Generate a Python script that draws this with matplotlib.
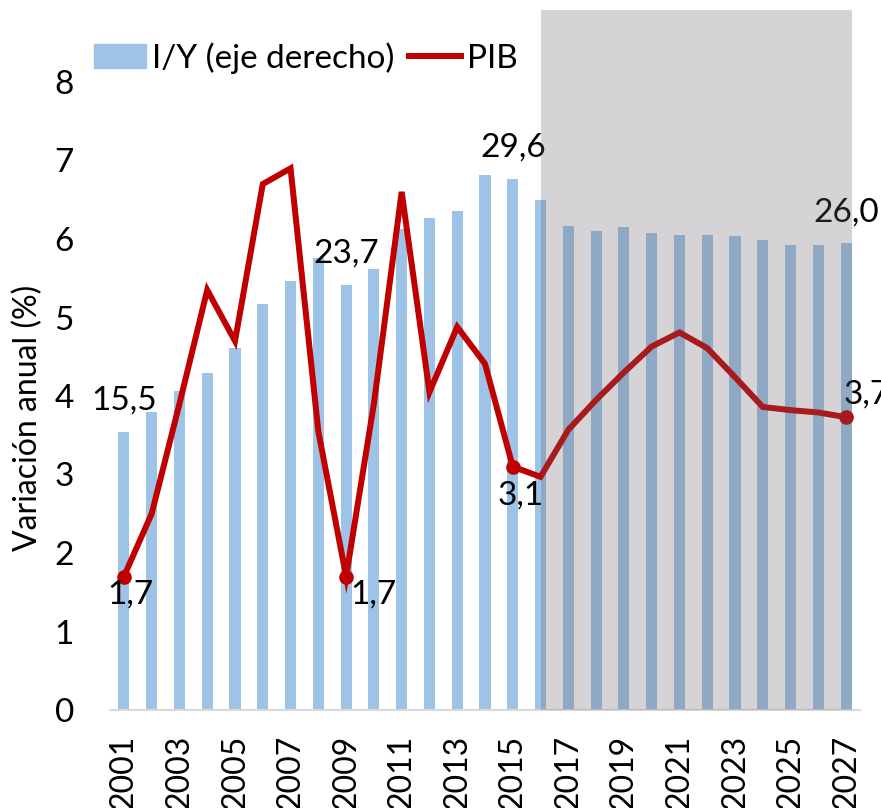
import matplotlib.pyplot as plt
import numpy as np
from matplotlib.patches import Rectangle, Patch
from matplotlib.lines import Line2D

plt.rcParams['font.family'] = ['Lato', 'DejaVu Sans']

years = list(range(2001, 2028))
# I/Y, right axis (0-35)
iy = [15.5, 16.6, 17.8, 18.8, 20.2, 22.6, 23.9, 25.2, 23.7, 24.6,
      26.8, 27.4, 27.8, 29.8, 29.6, 28.4, 27.0, 26.7, 26.9, 26.6,
      26.5, 26.5, 26.4, 26.2, 25.9, 25.9, 26.0]
# PIB, left axis
pib = [1.7, 2.5, 3.9, 5.35, 4.7, 6.7, 6.9, 3.55, 1.7, 3.9,
       6.6, 4.05, 4.88, 4.41, 3.1, 2.97, 3.57, 3.95, 4.3, 4.63,
       4.81, 4.61, 4.24, 3.86, 3.82, 3.79, 3.73]
iy_labeled = [0, 8, 14, 26]
pib_labeled = [0, 8, 14, 26]
forecast_start = 15  # 2016

W, H = 881, 808
fs = 24
fig = plt.figure(figsize=(W / 100, H / 100), dpi=100)
ax = fig.add_axes([110 / W, 1 - 710 / H, 750 / W, 628 / H])
ax2 = ax.twinx()

x = np.arange(len(years))

# bars on the (hidden) right axis
ax2.bar(x, iy, width=0.4, color='#9DC3E6')
ax2.set_ylim(0, 35)
ax2.set_yticks([])
for s in ax2.spines.values():
    s.set_visible(False)
for i in iy_labeled:
    ax2.annotate(f'{iy[i]:.1f}'.replace('.', ','), (x[i], iy[i]),
                 xytext=(0, 16), textcoords='offset points',
                 ha='center', va='baseline', fontsize=fs)

# line on the left axis, drawn above the bars
ax.set_zorder(ax2.get_zorder() + 1)
ax.patch.set_visible(False)
ax.plot(x, pib, color='#C00000', lw=4.3, solid_joinstyle='miter')
ax.plot(x[pib_labeled], np.array(pib)[pib_labeled], 'o', color='#C00000', ms=9.5)
offsets = {0: (5, -13, 'center'), 8: (20, -13, 'center'),
           14: (6, -21, 'center'), 26: (-2, 16, 'left')}
for i in pib_labeled:
    dx, dy, ha = offsets[i]
    ax.annotate(f'{pib[i]:.1f}'.replace('.', ','), (x[i], pib[i]),
                xytext=(dx, dy), textcoords='offset points',
                ha=ha, va='center', fontsize=fs, annotation_clip=False)

ax.set_xlim(-0.5, len(years) - 0.5)
ax.set_ylim(0, 8)
ax.set_yticks(range(0, 9))
ax.set_xticks(x[::2])
ax.set_xticklabels(years[::2], rotation=90)
ax.tick_params(axis='x', length=0, pad=18, labelsize=23)
ax.tick_params(axis='y', length=0, pad=26, labelsize=fs)
for s in ['top', 'right', 'left']:
    ax.spines[s].set_visible(False)
ax.spines['bottom'].set_color('#D9D9D9')
ax.spines['bottom'].set_linewidth(1.5)

# forecast shading on top of everything
ax.add_patch(Rectangle((forecast_start, 0), len(years) - 0.8 - forecast_start, 8.92,
                       facecolor='#6B646B', alpha=0.28, lw=0, zorder=10, clip_on=False))

fig.text(28 / W, 1 - 418 / H, 'Variación anual (%)', rotation=90,
         ha='center', va='center', fontsize=23)

handles = [Patch(color='#9DC3E6'), Line2D([], [], color='#C00000', lw=4.3)]
fig.legend(handles, ['I/Y (eje derecho)', 'PIB'], ncol=2, frameon=False,
           loc='center left', bbox_to_anchor=(94 / W, 1 - 58 / H),
           fontsize=fs, handlelength=1.56, handletextpad=0.18,
           columnspacing=0.45, borderpad=0, borderaxespad=0)

fig.savefig('out.png', dpi=100)
